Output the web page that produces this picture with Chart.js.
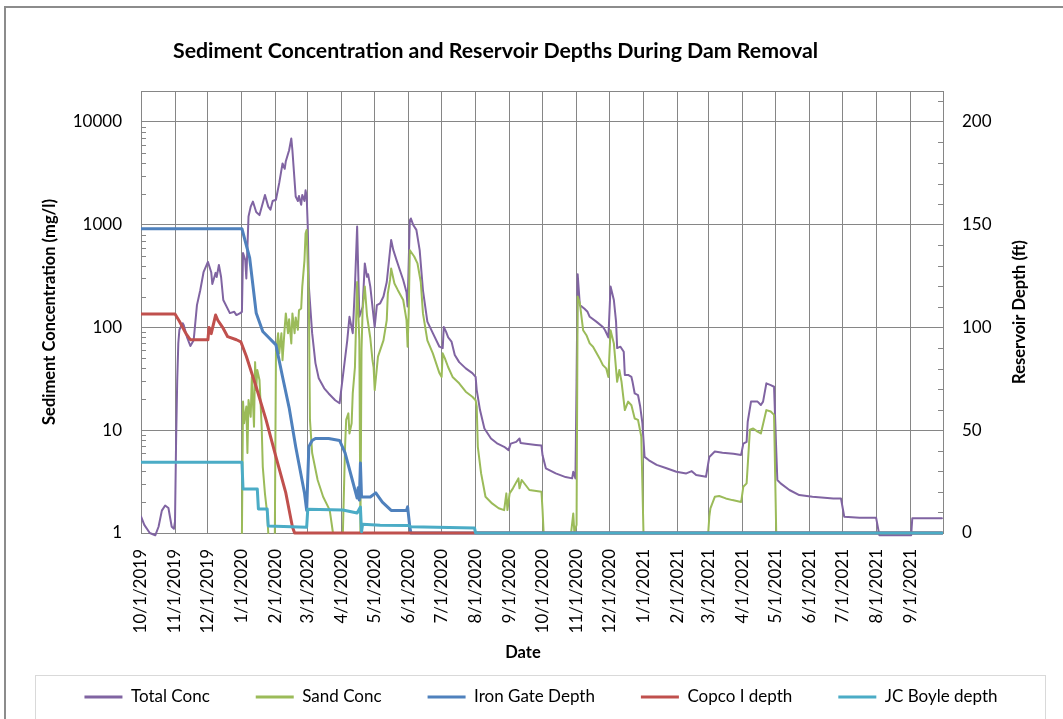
<!DOCTYPE html>
<html>
<head>
<meta charset="utf-8">
<title>Sediment Concentration and Reservoir Depths During Dam Removal</title>
<script src="https://cdn.jsdelivr.net/npm/chart.js@4.4.1/dist/chart.umd.min.js"></script>
<style>
  html, body { margin: 0; padding: 0; background: #fff; overflow: hidden; }
  #wrap { position: relative; width: 1063px; height: 719px; }
</style>
</head>
<body>
<div id="wrap"><canvas id="chart"></canvas></div>
<script>
// ---- data: [date, value] pairs, daily records thinned to the turning points ----
const totalConc = [
  ['10/1/2019',1.45],['10/4/2019',1.2],['10/9/2019',1.0],['10/14/2019',0.95],['10/17/2019',1.15],
  ['10/20/2019',1.65],['10/23/2019',1.85],['10/26/2019',1.75],['10/29/2019',1.15],['10/31/2019',1.1],
  ['11/1/2019',1.3],['11/2/2019',8],['11/3/2019',30],['11/4/2019',70],['11/5/2019',95],['11/8/2019',110],
  ['11/9/2019',105],['11/12/2019',80],['11/15/2019',66],['11/18/2019',75],['11/21/2019',165],
  ['11/24/2019',230],['11/27/2019',345],['12/1/2019',435],['12/4/2019',345],['12/5/2019',265],
  ['12/8/2019',340],['12/9/2019',310],['12/11/2019',405],['12/13/2019',310],['12/15/2019',185],
  ['12/21/2019',138],['12/25/2019',142],['12/27/2019',132],['12/30/2019',137],['1/1/2020',142],
  ['1/2/2020',530],['1/4/2020',455],['1/5/2020',300],['1/7/2020',1200],['1/9/2020',1500],
  ['1/11/2020',1680],['1/14/2020',1330],['1/17/2020',1240],['1/22/2020',1950],['1/25/2020',1500],
  ['1/27/2020',1400],['1/29/2020',1700],['2/1/2020',1750],['2/4/2020',2550],['2/7/2020',3950],
  ['2/9/2020',3500],['2/10/2020',4150],['2/13/2020',5300],['2/15/2020',6900],['2/16/2020',5300],
  ['2/19/2020',1880],['2/21/2020',1700],['2/22/2020',1900],['2/24/2020',1560],['2/25/2020',1950],
  ['2/27/2020',1700],['2/28/2020',2160],['2/29/2020',1880],['3/1/2020',960],['3/2/2020',250],
  ['3/5/2020',88],['3/8/2020',45],['3/11/2020',32],['3/16/2020',25.6],['3/20/2020',22.8],
  ['3/26/2020',19.6],['3/30/2020',18.3],['4/3/2020',41],['4/6/2020',75],['4/8/2020',127],
  ['4/11/2020',88],['4/13/2020',250],['4/15/2020',960],['4/17/2020',127],['4/20/2020',158],
  ['4/22/2020',420],['4/24/2020',311],['4/25/2020',330],['4/27/2020',250],['5/1/2020',101],
  ['5/3/2020',165],['5/6/2020',172],['5/9/2020',200],['5/12/2020',277],['5/16/2020',710],
  ['5/18/2020',565],['5/21/2020',450],['5/24/2020',360],['5/27/2020',290],['5/30/2020',220],
  ['5/31/2020',160],['6/2/2020',1100],['6/3/2020',1150],['6/5/2020',1000],['6/8/2020',890],
  ['6/11/2020',565],['6/14/2020',230],['6/18/2020',114],['6/23/2020',88],['6/29/2020',65],
  ['7/2/2020',63],['7/3/2020',101],['7/5/2020',91],['7/7/2020',80],['7/10/2020',73],
  ['7/13/2020',54],['7/17/2020',46],['7/23/2020',40],['7/29/2020',36],['8/1/2020',33],
  ['8/2/2020',24.6],['8/5/2020',15.7],['8/9/2020',10.4],['8/15/2020',8.3],['8/21/2020',7.4],
  ['8/27/2020',6.9],['8/31/2020',6.4],['9/2/2020',7.4],['9/7/2020',7.7],['9/10/2020',8.3],
  ['9/11/2020',7.5],['9/16/2020',7.4],['9/25/2020',7.2],['9/30/2020',7.1],['10/1/2020',5.7],
  ['10/4/2020',4.26],['10/13/2020',3.8],['10/22/2020',3.5],['10/28/2020',3.4],['10/29/2020',3.95],
  ['10/31/2020',3.4],['11/1/2020',30],['11/2/2020',330],['11/4/2020',165],['11/8/2020',153],
  ['11/11/2020',142],['11/13/2020',127],['11/19/2020',114],['11/25/2020',101],['11/27/2020',94],
  ['11/30/2020',80],['12/2/2020',250],['12/5/2020',185],['12/7/2020',114],['12/8/2020',63],
  ['12/11/2020',65],['12/14/2020',58],['12/15/2020',34.5],['12/18/2020',34.5],['12/21/2020',33],
  ['12/22/2020',29.6],['12/24/2020',22.8],['12/27/2020',22],['12/29/2020',17],['12/31/2020',11.7],
  ['1/2/2021',5.5],['1/6/2021',5.1],['1/13/2021',4.6],['1/22/2021',4.26],['1/31/2021',3.95],
  ['2/9/2021',3.8],['2/14/2021',4.0],['2/18/2021',3.67],['2/27/2021',3.53],['3/2/2021',5.5],
  ['3/7/2021',6.2],['3/14/2021',6.05],['3/24/2021',5.9],['3/31/2021',5.75],['4/2/2021',7.4],
  ['4/5/2021',7.7],['4/6/2021',12.1],['4/9/2021',19],['4/15/2021',19],['4/18/2021',17.6],
  ['4/20/2021',19],['4/23/2021',28.6],['4/27/2021',27.5],['4/30/2021',26.5],['5/2/2021',6.4],
  ['5/3/2021',3.28],['5/6/2021',3.04],['5/14/2021',2.62],['5/23/2021',2.34],['6/4/2021',2.25],
  ['6/23/2021',2.17],['6/30/2021',2.17],['7/3/2021',1.44],['7/17/2021',1.41],['8/1/2021',1.41],
  ['8/4/2021',0.95],['9/2/2021',0.95],['9/3/2021',1.39],['9/30/2021',1.39]
];

// null marks days without a sand reading
const sandConc = [
  ['1/1/2020',1],['1/2/2020',19],['1/3/2020',11.7],['1/5/2020',17],['1/6/2020',6],['1/7/2020',19.7],
  ['1/9/2020',13.5],['1/10/2020',33],['1/12/2020',10.8],['1/13/2020',46],['1/14/2020',24.6],
  ['1/15/2020',38.6],['1/17/2020',30.8],['1/19/2020',10.8],['1/20/2020',4.4],['1/22/2020',2.4],
  ['1/24/2020',1.55],['1/25/2020',1],['1/28/2020',null],['1/31/2020',1],['2/1/2020',56],
  ['2/3/2020',88],['2/4/2020',56],['2/6/2020',88],['2/7/2020',48],['2/9/2020',100],['2/10/2020',137],
  ['2/12/2020',88],['2/13/2020',120],['2/15/2020',70],['2/16/2020',137],['2/18/2020',88],
  ['2/19/2020',125],['2/21/2020',95],['2/22/2020',147],['2/24/2020',153],['2/25/2020',250],
  ['2/27/2020',450],['2/28/2020',820],['2/29/2020',890],['3/2/2020',185],['3/3/2020',12.6],
  ['3/5/2020',6],['3/10/2020',3.28],['3/15/2020',2.25],['3/21/2020',1.67],['3/24/2020',1],
  ['3/28/2020',null],['4/2/2020',1],['4/4/2020',6.9],['4/5/2020',12.6],['4/7/2020',14.6],
  ['4/8/2020',9.3],['4/10/2020',11.7],['4/11/2020',22.8],['4/13/2020',41],['4/15/2020',277],
  ['4/17/2020',75],['4/18/2020',1],['4/19/2020',60],['4/20/2020',150],['4/22/2020',250],
  ['4/24/2020',130],['4/27/2020',79],['4/29/2020',48],['4/30/2020',41],['5/1/2020',24.6],
  ['5/4/2020',52],['5/9/2020',75],['5/12/2020',118],['5/13/2020',215],['5/15/2020',290],
  ['5/16/2020',375],['5/19/2020',268],['5/22/2020',232],['5/27/2020',185],['5/30/2020',118],
  ['5/31/2020',65],['6/1/2020',137],['6/2/2020',565],['6/3/2020',545],['6/6/2020',490],
  ['6/9/2020',420],['6/12/2020',277],['6/14/2020',137],['6/18/2020',75],['6/23/2020',56],
  ['6/29/2020',36],['7/1/2020',33],['7/2/2020',56],['7/4/2020',50],['7/7/2020',41],
  ['7/11/2020',33],['7/17/2020',28.6],['7/23/2020',23.7],['7/29/2020',21.2],['8/1/2020',19.6],
  ['8/2/2020',17],['8/3/2020',6.9],['8/6/2020',3.8],['8/10/2020',2.25],['8/16/2020',1.94],
  ['8/22/2020',1.74],['8/27/2020',1.67],['8/29/2020',2.43],['8/30/2020',1.67],['9/1/2020',2.43],
  ['9/4/2020',2.72],['9/9/2020',3.4],['9/10/2020',2.72],['9/12/2020',3.28],['9/19/2020',2.62],
  ['9/30/2020',2.52],['10/1/2020',1.67],['10/2/2020',1],['10/15/2020',null],['10/27/2020',1],
  ['10/29/2020',1.55],['10/30/2020',1],['11/1/2020',1.2],['11/2/2020',200],['11/4/2020',172],
  ['11/7/2020',94],['11/10/2020',84],['11/13/2020',70],['11/16/2020',65],['11/22/2020',50],
  ['11/25/2020',43],['11/28/2020',40],['11/30/2020',33],['12/2/2020',94],['12/5/2020',70],
  ['12/8/2020',29.6],['12/10/2020',38.6],['12/12/2020',29.6],['12/15/2020',15.7],['12/18/2020',19],
  ['12/21/2020',17.5],['12/24/2020',13],['12/27/2020',12.6],['12/30/2020',8.7],['1/1/2021',1],
  ['2/1/2021',null],['3/1/2021',1],['3/2/2021',1.44],['3/3/2021',1.74],['3/7/2021',2.25],
  ['3/11/2021',2.29],['3/17/2021',2.17],['3/23/2021',2.09],['3/31/2021',2.0],['4/2/2021',2.82],
  ['4/5/2021',3.04],['4/8/2021',10.1],['4/11/2021',10.4],['4/15/2021',9.7],['4/18/2021',9.3],
  ['4/23/2021',15.7],['4/27/2021',15.2],['4/30/2021',14.1],['5/2/2021',1]
];

const ironGateDepth = [
  ['10/1/2019',148],['1/1/2020',148],['1/8/2020',134],['1/14/2020',107],['1/20/2020',98],
  ['2/1/2020',91.5],['2/7/2020',76],['2/13/2020',61],['2/19/2020',42],['2/27/2020',19.5],
  ['2/29/2020',11],['3/2/2020',42],['3/5/2020',45],['3/8/2020',46],['3/20/2020',46],
  ['3/30/2020',45],['4/4/2020',39],['4/10/2020',27],['4/15/2020',17],['4/16/2020',22],
  ['4/17/2020',16],['4/18/2020',34],['4/19/2020',17.5],['4/27/2020',17.5],['5/2/2020',19.5],
  ['5/8/2020',15],['5/16/2020',11],['5/30/2020',11],['5/31/2020',12.7],['6/2/2020',3],
  ['6/3/2020',0],['9/30/2021',0]
];

const copcoDepth = [
  ['10/1/2019',106.5],['11/1/2019',106.5],['11/5/2019',103],['11/11/2019',97],['11/15/2019',94],
  ['12/1/2019',94],['12/2/2019',100],['12/4/2019',97],['12/8/2019',106],['12/10/2019',103.5],
  ['12/15/2019',99.5],['12/19/2019',95.5],['12/27/2019',94],['12/31/2019',93],['1/5/2020',86],
  ['1/14/2020',71],['1/23/2020',55],['2/1/2020',37],['2/10/2020',19.5],['2/16/2020',3],
  ['2/18/2020',0],['9/30/2021',0]
];

const jcBoyleDepth = [
  ['10/1/2019',34.4],['1/1/2020',34.4],['1/2/2020',21.4],['1/15/2020',21.4],['1/16/2020',11.7],
  ['1/24/2020',11.7],['1/25/2020',3.4],['2/29/2020',2.8],['3/1/2020',11.5],['4/2/2020',11.2],
  ['4/15/2020',9.7],['4/18/2020',12.6],['4/19/2020',0.6],['4/20/2020',4.2],['5/6/2020',3.8],
  ['6/1/2020',3.6],['6/3/2020',3],['7/31/2020',2.4],['8/1/2020',0],['9/30/2021',0]
];

// ---- axis tick labels ----
const dateTicks = [
  '10/1/2019','11/1/2019','12/1/2019','1/1/2020','2/1/2020','3/1/2020','4/1/2020','5/1/2020',
  '6/1/2020','7/1/2020','8/1/2020','9/1/2020','10/1/2020','11/1/2020','12/1/2020','1/1/2021',
  '2/1/2021','3/1/2021','4/1/2021','5/1/2021','6/1/2021','7/1/2021','8/1/2021','9/1/2021'
];
const concTicks = [1, 10, 100, 1000, 10000];
const depthTicks = [0, 50, 100, 150, 200];

const seriesNames = ['Total Conc', 'Sand Conc', 'Iron Gate Depth', 'Copco I depth', 'JC Boyle depth'];

// ---- helpers ----
const T0 = Date.UTC(2019, 9, 1);
function dayOf(s) {
  const [m, d, y] = s.split('/').map(Number);
  return Math.round((Date.UTC(y, m - 1, d) - T0) / 86400000);
}
const toPoints = arr => arr.map(([d, v]) => ({ x: dayOf(d), y: v }));
const END_DAY = dayOf('10/1/2021');

const FONT = 'Lato';
const GRID = '#868686';
const LEGEND_GAP = 46;

// frame, minor ticks and free-standing titles
const decor = {
  id: 'decor',
  beforeDraw(chart) {
    const c = chart.ctx;
    c.save();
    c.fillStyle = '#ffffff';
    c.fillRect(0, 0, chart.width, chart.height);
    c.strokeStyle = '#8c8c8c';
    c.lineWidth = 2;
    c.strokeRect(5, 7, chart.width + 40, chart.height + 40);
    c.strokeStyle = '#d9d9d9';
    c.lineWidth = 1;
    c.strokeRect(35.5, 675.5, 1010, 80);
    c.restore();
  },
  beforeDatasetsDraw(chart) {
    const c = chart.ctx, ca = chart.chartArea;
    const ys = chart.scales.y, yr = chart.scales.y1;
    c.save();
    c.strokeStyle = GRID;
    c.lineWidth = 1;
    c.beginPath();
    c.moveTo(ca.left, Math.round(ca.top) + 0.5);
    c.lineTo(ca.right, Math.round(ca.top) + 0.5);
    for (let e = 0; e < 5; e++) {
      for (let k = 2; k <= 9; k++) {
        const v = k * Math.pow(10, e);
        if (v >= ys.max) break;
        const py = Math.round(ys.getPixelForValue(v)) + 0.5;
        c.moveTo(ca.left, py);
        c.lineTo(ca.left + 5, py);
      }
    }
    for (let v = 10; v < yr.max; v += 10) {
      if (v % 50 === 0) continue;
      const py = Math.round(yr.getPixelForValue(v)) + 0.5;
      c.moveTo(ca.right - 5, py);
      c.lineTo(ca.right, py);
    }
    c.stroke();
    c.restore();
  },
  afterDraw(chart) {
    const c = chart.ctx, ca = chart.chartArea;
    c.save();
    c.fillStyle = '#000';
    c.textAlign = 'center';
    c.textBaseline = 'middle';
    c.font = `bold 21.3px ${FONT}`;
    c.fillText('Sediment Concentration and Reservoir Depths During Dam Removal', 495.5, 51);
    c.font = `bold 16.5px ${FONT}`;
    c.fillText('Date', 523, 653);
    c.translate(1020, (ca.top + ca.bottom) / 2);
    c.rotate(-Math.PI / 2);
    c.fillText('Reservoir Depth (ft)', 0, 0);
    c.restore();
  }
};

const line = (label, data, color, width, axis, order) => ({
  label,
  data: toPoints(data),
  borderColor: color,
  backgroundColor: color,
  borderWidth: width,
  yAxisID: axis,
  order,
  pointRadius: 0,
  tension: 0,
  spanGaps: false,
  borderJoinStyle: 'round',
  borderCapStyle: 'round',
  clip: { left: 0, top: 0, right: 0, bottom: 4 }
});

new Chart(document.getElementById('chart'), {
  type: 'line',
  data: {
    datasets: [
      line(seriesNames[0], totalConc, '#8064A2', 2, 'y', 5),
      line(seriesNames[1], sandConc, '#9BBB59', 2, 'y', 4),
      line(seriesNames[2], ironGateDepth, '#4F81BD', 3, 'y1', 3),
      line(seriesNames[3], copcoDepth, '#C0504D', 3, 'y1', 2),
      line(seriesNames[4], jcBoyleDepth, '#4BACC6', 3, 'y1', 1)
    ]
  },
  options: {
    responsive: true,
    maintainAspectRatio: false,
    animation: false,
    devicePixelRatio: 1,
    layout: { padding: { left: 19, right: 0, top: 91, bottom: 3.5 } },
    plugins: {
      title: { display: false },
      tooltip: { enabled: false },
      legend: {
        position: 'bottom',
        align: 'center',
        labels: {
          boxWidth: 38,
          boxHeight: 3,
          padding: LEGEND_GAP,
          color: '#000',
          font: { family: FONT, size: 17 },
          sort: (a, b) => a.datasetIndex - b.datasetIndex,
          generateLabels: chart =>
            Chart.defaults.plugins.legend.labels.generateLabels(chart)
              .map(item => Object.assign(item, { lineWidth: 0 }))
        }
      }
    },
    scales: {
      x: {
        type: 'linear',
        min: 0,
        max: END_DAY,
        afterBuildTicks: s => { s.ticks = dateTicks.map(t => ({ value: dayOf(t) })); },
        // leaves the legend text centred at y = 697 with the plot bottom at y = 533
        afterFit: s => { s.height = 105.5 + (50 - LEGEND_GAP); },
        ticks: {
          autoSkip: false,
          minRotation: 90,
          maxRotation: 90,
          padding: 16,
          color: '#000',
          font: { family: FONT, size: 17 },
          callback: (v, i) => dateTicks[i]
        },
        grid: { color: GRID, lineWidth: 1, drawTicks: false },
        border: { color: GRID }
      },
      y: {
        type: 'logarithmic',
        position: 'left',
        min: 1,
        max: 20000,
        afterBuildTicks: s => { s.ticks = concTicks.map(v => ({ value: v })); },
        afterFit: s => { s.width = 122; },
        ticks: {
          padding: 19,
          color: '#000',
          font: { family: FONT, size: 17 },
          callback: v => String(v)
        },
        grid: { color: GRID, lineWidth: 1, drawTicks: false },
        border: { color: GRID },
        title: {
          display: true,
          text: 'Sediment Concentration (mg/l)',
          color: '#000',
          font: { family: FONT, size: 16.5, weight: 'bold' },
          padding: { top: 21, bottom: 0 }
        }
      },
      y1: {
        type: 'linear',
        position: 'right',
        min: 0,
        max: 215,
        afterBuildTicks: s => { s.ticks = depthTicks.map(v => ({ value: v })); },
        afterFit: s => { s.width = 120; },
        ticks: {
          padding: 19,
          color: '#000',
          font: { family: FONT, size: 17 },
          callback: v => String(v)
        },
        grid: { drawOnChartArea: false, drawTicks: false },
        border: { color: GRID }
      }
    }
  },
  plugins: [decor]
});
</script>
</body>
</html>
